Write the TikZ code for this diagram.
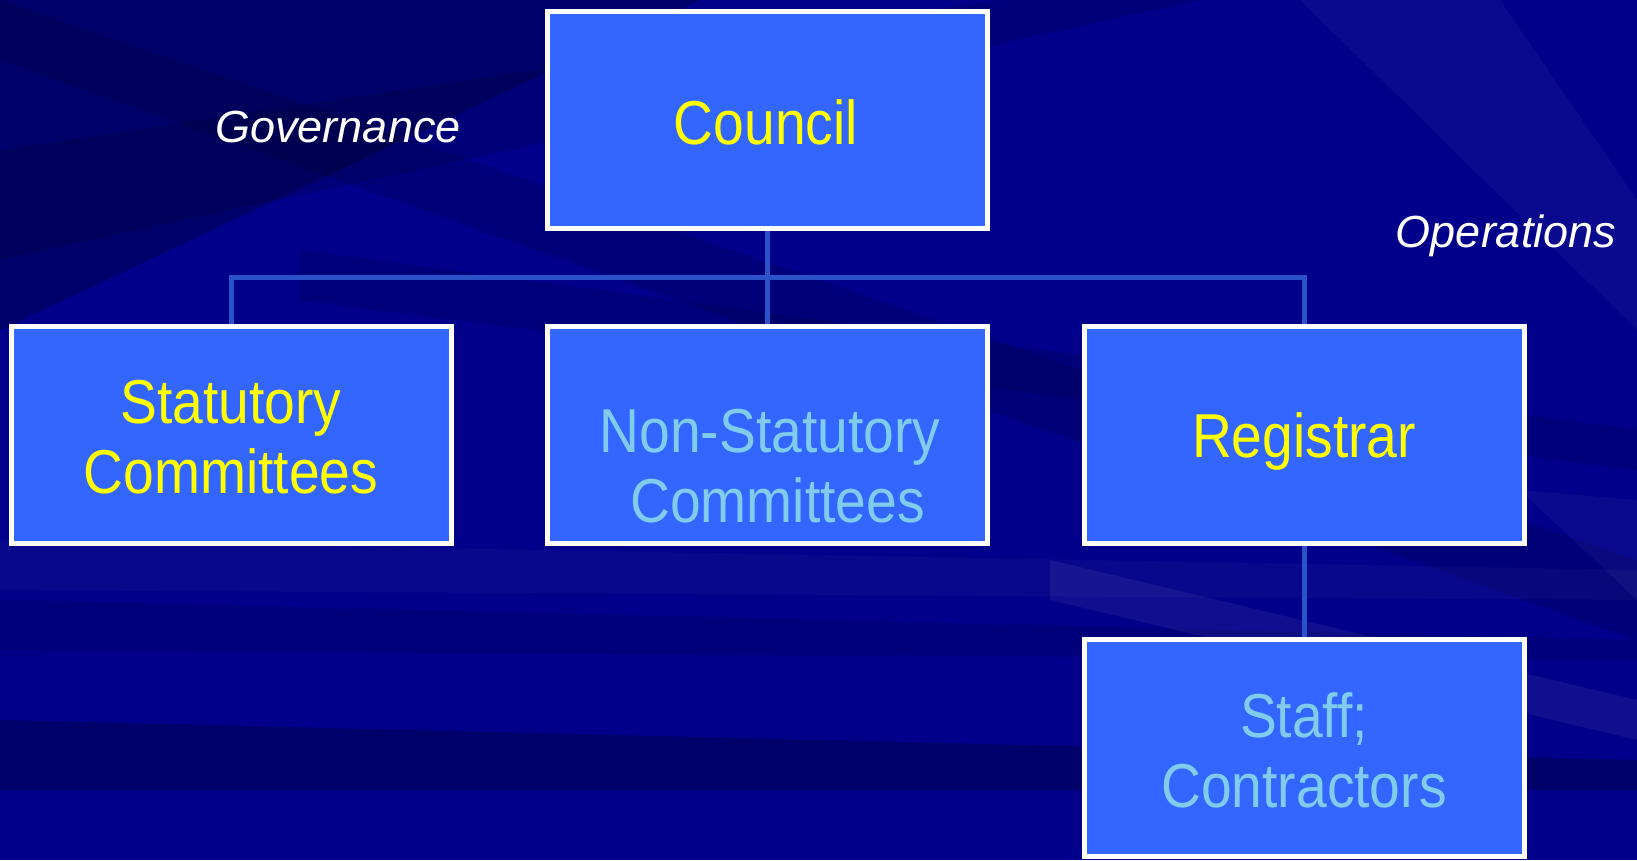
\documentclass[tikz,border=0pt]{standalone}
\usepackage{fontspec}
\newfontfamily\boxfont[FakeStretch=0.89]{Liberation Sans}
\newfontfamily\labfont{Liberation Sans}
\definecolor{bgblue}{HTML}{00008A}
\definecolor{boxblue}{HTML}{3366FF}
\definecolor{linkblue}{HTML}{2A52C9}
\definecolor{txtyellow}{HTML}{FFFF00}
\definecolor{txtsky}{HTML}{80CCEE}
\tikzset{
  orgbox/.style={draw=white, line width=5pt, fill=boxblue, minimum width=440pt, minimum height=217pt, inner sep=0pt},
  boxtext/.style={anchor=base, font=\boxfont\fontsize{62}{70}\selectfont, align=center, inner sep=0pt},
  sidetext/.style={font=\labfont\itshape\fontsize{45}{50}\selectfont, text=white, inner sep=0pt},
  link/.style={draw=linkblue, line width=5pt}
}
\begin{document}
\begin{tikzpicture}[x=1pt,y=-1pt]
\useasboundingbox (0,0) rectangle (1637,860);
% background
\fill[bgblue] (0,0) rectangle (1637,860);
\fill[black,opacity=0.22] (0,0) -- (700,0) -- (0,330) -- cycle;
\fill[black,opacity=0.12] (0,150) -- (1000,0) -- (1200,0) -- (0,260) -- cycle;
\fill[black,opacity=0.12] (0,0) -- (1637,560) -- (1637,640) -- (0,60) -- cycle;
\fill[black,opacity=0.1] (300,250) -- (1637,430) -- (1637,470) -- (300,300) -- cycle;
\fill[black,opacity=0.22] (0,720) -- (1637,760) -- (1637,790) -- (0,790) -- cycle;
\fill[black,opacity=0.1] (0,600) -- (1637,640) -- (1637,660) -- (0,650) -- cycle;
\fill[white,opacity=0.06] (1050,560) -- (1637,700) -- (1637,740) -- (1050,600) -- cycle;
\fill[white,opacity=0.04] (1300,0) -- (1500,0) -- (1637,200) -- (1637,330) -- cycle;
\fill[white,opacity=0.04] (1520,490) -- (1637,500) -- (1637,600) -- cycle;
\fill[white,opacity=0.03] (0,540) -- (1637,570) -- (1637,600) -- (0,590) -- cycle;
% boxes
\node[orgbox] (council) at (767.5,119.5) {};
\node[orgbox] (stat) at (231.5,434.5) {};
\node[orgbox] (nonstat) at (767.5,434.5) {};
\node[orgbox] (reg) at (1304,434.5) {};
\node[orgbox] (staff) at (1304,748) {};
% connectors
\coordinate (bus) at (767.5,277);
\draw[link] (council.south) -- (nonstat.north);
\draw[link] (stat.north) -- (stat.north |- bus) -- (reg.north |- bus) -- (reg.north);
\draw[link] (reg.south) -- (staff.north);
% texts
\node[boxtext, text=txtyellow] (tcouncil) at (766,144) {Council};
\node[boxtext, text=txtyellow] (tstat) at (231,493) {Statutory\\Committees};
\node[boxtext, text=txtsky] (tnonstat) at (770,522) {Non-Statutory\\\hspace*{15pt}Committees};
\node[boxtext, text=txtyellow] (treg) at (1304,457) {Registrar};
\node[boxtext, text=txtsky] (tstaff) at (1304,807) {Staff;\\Contractors};
\node[sidetext] (gov) at (338,127) {Governance};
\node[sidetext] (ops) at (1506,236) {Operations};
\end{tikzpicture}
\end{document}
